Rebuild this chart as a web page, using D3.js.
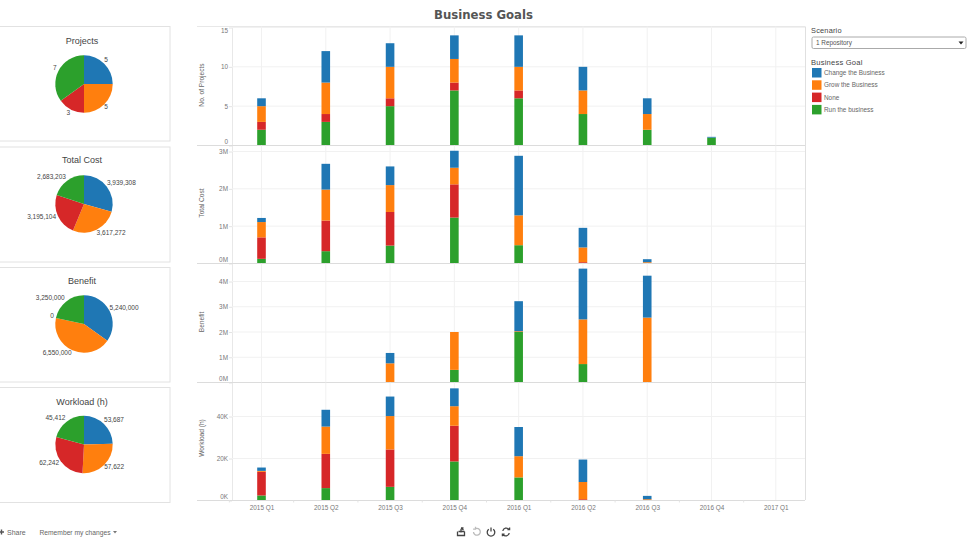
<!DOCTYPE html>
<html>
<head>
<meta charset="utf-8">
<title>Business Goals</title>
<script src="https://cdn.jsdelivr.net/npm/d3@7"></script>
<style>
  html, body { margin: 0; padding: 0; background: #fff; overflow: hidden; }
  svg { display: block; font-family: "Liberation Sans", Arial, sans-serif; }
  .axis text { font-size: 6.4px; fill: #777; }
  .axis line { stroke: #e4e4e4; }
  .axis path { display: none; }
</style>
</head>
<body>
<svg id="canvas" width="967" height="537"></svg>
<script>
const quarters = ["2015 Q1", "2015 Q2", "2015 Q3", "2015 Q4", "2016 Q1", "2016 Q2", "2016 Q3", "2016 Q4", "2017 Q1"];
const goals = ["Change the Business", "Grow the Business", "None", "Run the business"];
const goalColors = ["#1f77b4", "#ff7f0e", "#d62728", "#2ca02c"];

// bars, one array per goal, one value per quarter
const projectsChange = [1, 4, 3, 3, 4, 3, 2, 0.1, 0];
const projectsGrow = [2, 4, 4, 3, 3, 3, 2, 0, 0];
const projectsNone = [1, 1, 1, 1, 1, 0, 0, 0, 0];
const projectsRun = [2, 3, 5, 7, 6, 4, 2, 1, 0];

const costChange = [110000, 690000, 500000, 455000, 1595000, 525000, 80000, 0, 0];
const costGrow = [410000, 830000, 720000, 445000, 800000, 395000, 35000, 0, 0];
const costNone = [575000, 820000, 900000, 890000, 0, 35000, 0, 0, 0];
const costRun = [125000, 330000, 480000, 1230000, 490000, 0, 0, 0, 0];

const benefitChange = [0, 0, 410000, 0, 1190000, 2010000, 1660000, 0, 0];
const benefitGrow = [0, 0, 760000, 1500000, 30000, 1770000, 2570000, 0, 0];
const benefitNone = [0, 0, 0, 0, 0, 0, 0, 0, 0];
const benefitRun = [0, 0, 0, 500000, 2000000, 730000, 0, 0, 0];

const workloadChange = [1600, 8000, 9300, 8500, 13900, 10700, 1600, 0, 0];
const workloadGrow = [450, 13000, 15900, 9300, 10100, 8200, 500, 0, 0];
const workloadNone = [11250, 16300, 17800, 17000, 0, 600, 100, 0, 0];
const workloadRun = [2400, 5900, 6500, 18600, 11000, 0, 0, 0, 0];

// pie totals, same goal order
const projectTotals = [5, 5, 3, 7];
const costTotals = [3939308, 3617272, 3195104, 2683203];
const benefitTotals = [5240000, 6550000, 0, 3250000];
const workloadTotals = [53687, 57622, 62242, 45412];

const projectTicks = [0, 5, 10, 15];
const costTicks = [0, 1000000, 2000000, 3000000];
const benefitTicks = [0, 1000000, 2000000, 3000000, 4000000];
const workloadTicks = [0, 20000, 40000];

const svg = d3.select("#canvas");

svg.append("text")
  .attr("x", 483.5).attr("y", 18.5)
  .attr("text-anchor", "middle")
  .style("font-family", "'DejaVu Sans'")
  .style("font-stretch", "condensed")
  .style("font-weight", "bold")
  .style("font-size", "13px")
  .style("fill", "#555")
  .text("Business Goals");

// ---- pies on the left
const pieLayout = d3.pie().sort(null).value((d) => d);
const pieArc = d3.arc().innerRadius(0).outerRadius(28.7);
const labelArc = d3.arc().innerRadius(32).outerRadius(32);

const drawPie = (title, totals, boxTop, boxBottom, cy, titleY) => {
  svg.append("rect")
    .attr("x", -2).attr("y", boxTop)
    .attr("width", 172).attr("height", boxBottom - boxTop)
    .attr("fill", "#fff").attr("stroke", "#e2e2e2");

  svg.append("text")
    .attr("x", 82).attr("y", titleY)
    .attr("text-anchor", "middle")
    .style("font-size", "9px")
    .style("fill", "#444")
    .text(title);

  const g = svg.append("g").attr("transform", `translate(84,${cy})`);
  const slices = pieLayout(totals);

  g.selectAll("path")
    .data(slices)
    .enter()
    .append("path")
    .attr("d", pieArc)
    .attr("fill", (d, i) => goalColors[i]);

  // labels hug the pie a bit closer sideways than up and down
  g.selectAll("text")
    .data(slices)
    .enter()
    .append("text")
    .attr("transform", (d) => {
      const c = labelArc.centroid(d);
      return `translate(${c[0] * (c[0] > 0 ? 0.9 : 0.96)},${c[1] * 1.03})`;
    })
    .attr("dy", "0.2em")
    .attr("text-anchor", (d) => ((d.startAngle + d.endAngle) / 2 < Math.PI ? "start" : "end"))
    .style("font-size", "6.5px")
    .style("fill", "#444")
    .text((d) => d3.format(",")(d.value));
};

drawPie("Projects", projectTotals, 26.5, 141, 84, 44);
drawPie("Total Cost", costTotals, 147, 262, 204, 162.5);
drawPie("Benefit", benefitTotals, 267.5, 382, 324, 284);
drawPie("Workload (h)", workloadTotals, 387.5, 502.5, 444.5, 404.5);

// ---- stacked bars in the middle
const x = d3.scalePoint().domain(quarters).range([261.5, 775.8]);
const step = x.step();
const barWidth = 8.6;

const fmtMillions = (d) => d / 1000000 + "M";
const fmtThousands = (d) => d / 1000 + "K";

const drawBars = (name, series, ticks, fmt, yTop, yBottom, topValue, yTopValue, titleY) => {
  const y = d3.scaleLinear().domain([0, topValue]).range([yBottom, yTopValue]);

  const rows = quarters.map((q, i) => {
    const row = { quarter: q };
    goals.forEach((g, k) => { row[g] = series[k][i]; });
    return row;
  });
  const stack = d3.stack().keys([goals[3], goals[2], goals[1], goals[0]]);

  // grid
  svg.append("g").selectAll("line")
    .data(ticks.filter((t) => t > 0))
    .enter().append("line")
    .attr("x1", 232).attr("x2", 805)
    .attr("y1", (d) => y(d)).attr("y2", (d) => y(d))
    .attr("stroke", "#f1f1f1");

  svg.append("g").selectAll("line")
    .data(quarters)
    .enter().append("line")
    .attr("x1", (d) => x(d)).attr("x2", (d) => x(d))
    .attr("y1", yTop).attr("y2", yBottom)
    .attr("stroke", "#f1f1f1");

  stack(rows).forEach((layer) => {
    svg.append("g")
      .attr("fill", goalColors[goals.indexOf(layer.key)])
      .selectAll("rect")
      .data(layer)
      .enter()
      .append("rect")
      .attr("x", (d) => x(d.data.quarter) - barWidth / 2)
      .attr("y", (d) => y(d[1]))
      .attr("width", barWidth)
      .attr("height", (d) => y(d[0]) - y(d[1]));
  });

  const yAxis = svg.append("g")
    .attr("class", "axis")
    .attr("transform", "translate(232,0)")
    .call(d3.axisLeft(y).tickValues(ticks).tickFormat(fmt).tickSize(3).tickPadding(1));

  // zero label sits above the panel floor, "15" below the panel roof
  yAxis.selectAll("text")
    .attr("dy", (d) => (d === 0 ? "-0.35em" : d === 15 ? "0.8em" : "0.32em"));

  svg.append("text")
    .attr("transform", `translate(204,${titleY}) rotate(-90)`)
    .attr("text-anchor", "middle")
    .style("font-size", "6.6px")
    .style("fill", "#666")
    .text(name);

  svg.append("line")
    .attr("x1", 197).attr("x2", 805)
    .attr("y1", yBottom).attr("y2", yBottom)
    .attr("stroke", "#dcdcdc");
};

svg.append("line").attr("x1", 197).attr("x2", 805).attr("y1", 26.5).attr("y2", 26.5).attr("stroke", "#e8e8e8");
svg.append("line").attr("x1", 232.5).attr("x2", 232.5).attr("y1", 26.5).attr("y2", 500).attr("stroke", "#e8e8e8");
svg.append("line").attr("x1", 805.5).attr("x2", 805.5).attr("y1", 26.5).attr("y2", 500).attr("stroke", "#e0e0e0");

drawBars("No. of Projects", [projectsChange, projectsGrow, projectsNone, projectsRun], projectTicks, (d) => d, 26.5, 145.5, 15, 27.5, 85);
drawBars("Total Cost", [costChange, costGrow, costNone, costRun], costTicks, fmtMillions, 145.5, 263.5, 3000000, 151.5, 203);
drawBars("Benefit", [benefitChange, benefitGrow, benefitNone, benefitRun], benefitTicks, fmtMillions, 263.5, 382.5, 4000000, 281.5, 322);
drawBars("Workload (h)", [workloadChange, workloadGrow, workloadNone, workloadRun], workloadTicks, fmtThousands, 382.5, 500.5, 40000, 416.5, 438);

const xAxis = svg.append("g")
  .attr("class", "axis")
  .attr("transform", "translate(0,500.5)")
  .call(d3.axisBottom(x).tickSize(0).tickPadding(5));

// little ticks sit between the quarters
xAxis.selectAll(".edge")
  .data(quarters)
  .enter().append("line")
  .attr("class", "edge")
  .attr("x1", (d) => x(d) - step / 2).attr("x2", (d) => x(d) - step / 2)
  .attr("y1", 0).attr("y2", 2);

// ---- scenario filter and legend
svg.append("text").attr("x", 811).attr("y", 32.5)
  .style("font-size", "7.4px").style("letter-spacing", "0.2px").style("fill", "#444").text("Scenario");
svg.append("rect").attr("x", 812).attr("y", 37).attr("width", 154).attr("height", 11.5).attr("rx", 1.5)
  .attr("fill", "#fff").attr("stroke", "#aaa");
svg.append("text").attr("x", 816).attr("y", 45.2)
  .style("font-size", "6.4px").style("fill", "#555").text("1 Repository");
svg.append("path").attr("d", "M958.5,41.5h5l-2.5,3z").attr("fill", "#222");

svg.append("text").attr("x", 811).attr("y", 64.5)
  .style("font-size", "7.6px").style("letter-spacing", "0.2px").style("fill", "#444").text("Business Goal");

const legend = svg.append("g").selectAll("g")
  .data(goals)
  .enter().append("g")
  .attr("transform", (d, i) => `translate(812,${68 + i * 12.3})`);

legend.append("rect")
  .attr("width", 9.5).attr("height", 9.5)
  .attr("fill", (d, i) => goalColors[i]);

legend.append("text")
  .attr("x", 12).attr("y", 7.2)
  .style("font-size", "6.4px")
  .style("fill", "#666")
  .text((d) => d);

// ---- footer
svg.append("path").attr("d", "M-1,532h5M1.5,529.5v5").attr("stroke", "#555").attr("stroke-width", 1.4);
svg.append("text").attr("x", 7).attr("y", 534.5).style("font-size", "7px").style("fill", "#666").text("Share");
svg.append("text").attr("x", 39.5).attr("y", 534.5).style("font-size", "6.7px").style("fill", "#666").text("Remember my changes");
svg.append("path").attr("d", "M113,531h4l-2,2.5z").attr("fill", "#777");

const icons = svg.append("g").attr("fill", "none").attr("stroke", "#444").attr("stroke-width", 1.3);
icons.append("path").attr("d", "M457.5,531.5v4h7v-4M458.5,531.5h6M461,532.5v-3.5M461,528l2.5,2M461,528h2.5");
icons.append("path").attr("d", "M473.5,532a3.4,3.4 0 1 0 2,-3.3M475.5,526.8v2.4h-2.4").attr("stroke", "#bbb");
icons.append("path").attr("d", "M488.8,529.2a3.8,3.8 0 1 0 4.4,0M491,527.5v4");
icons.append("path").attr("d", "M502.8,531a3.5,3.5 0 0 1 6.2,-1.6M509.2,533a3.5,3.5 0 0 1 -6.2,1.6M509.6,527.5v2.2h-2.2M502.4,536.3v-2.2h2.2");
</script>
</body>
</html>
